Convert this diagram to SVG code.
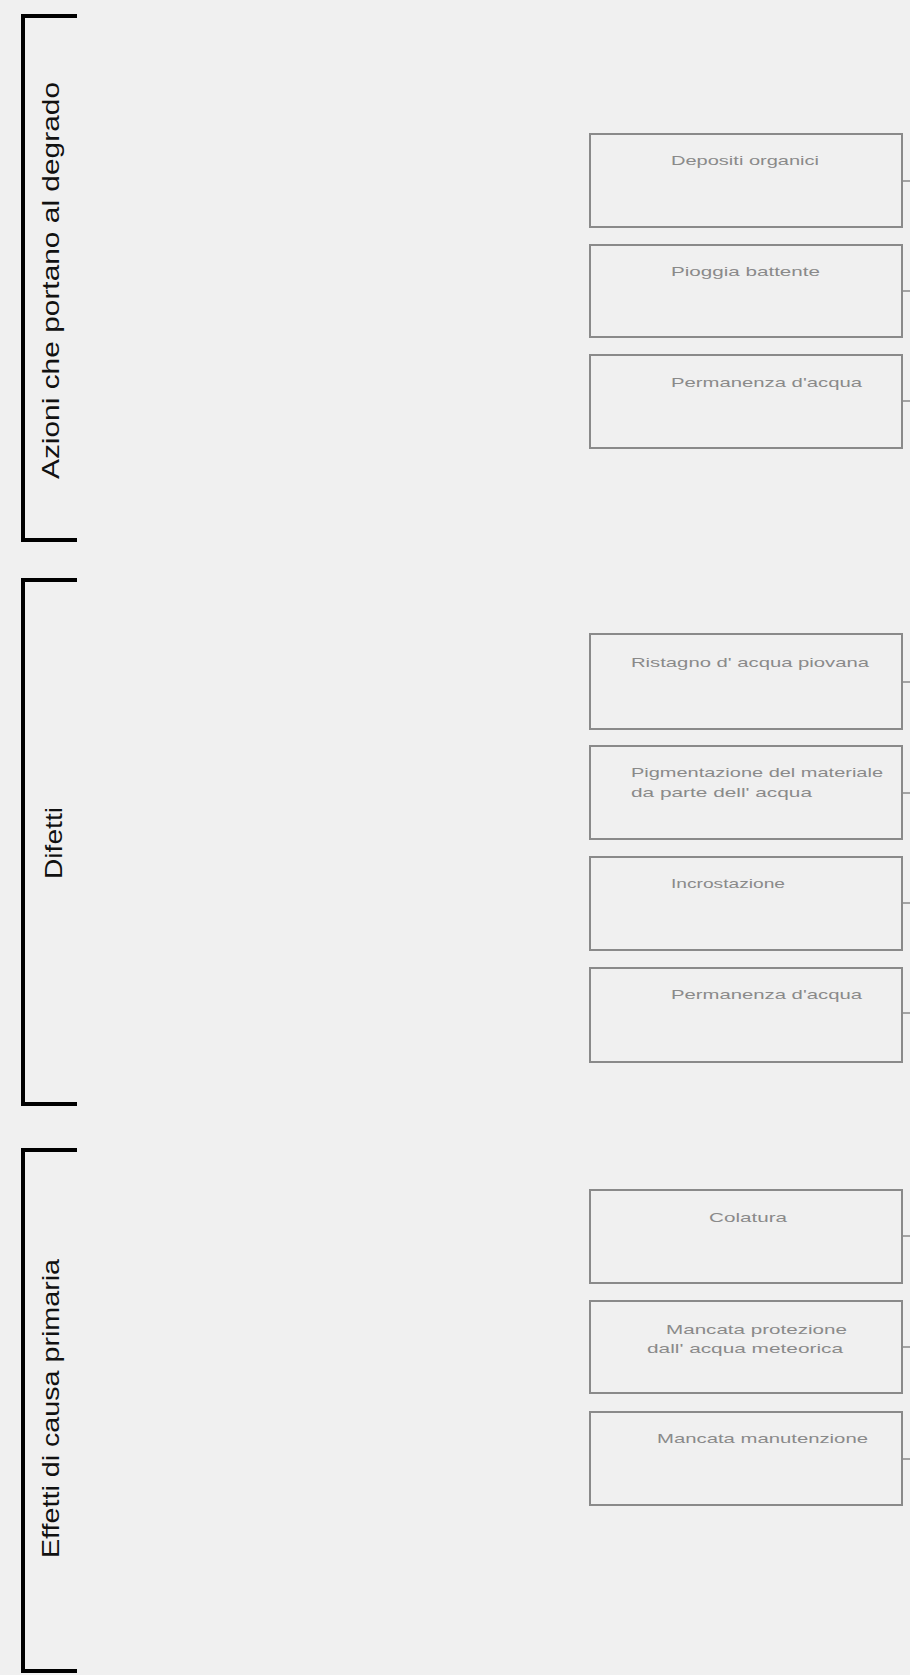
<svg xmlns="http://www.w3.org/2000/svg" width="910" height="1675" viewBox="0 0 910 1675">
<style>
.bg{fill:#f0f0f0}
.br{fill:none;stroke:#000;stroke-width:4;stroke-linecap:butt;stroke-linejoin:miter}
.lab{font-family:"Liberation Sans","DejaVu Sans",sans-serif;font-size:24px;fill:#111}
.box{fill:#f0f0f0;stroke:#8a8a8a;stroke-width:2}
.t{font-family:"Liberation Sans","DejaVu Sans",sans-serif;font-size:13px;fill:#8a8a8a}
.c{stroke:#8a8a8a;stroke-width:1.5;fill:none}
</style>
<rect class="bg" x="0" y="0" width="910" height="1675"/>
<g id="group-azioni">
<path class="br" d="M77,16 H23 V540 H77"/>
<text class="lab" transform="translate(59,479) rotate(-90)" textLength="397" lengthAdjust="spacingAndGlyphs">Azioni che portano al degrado</text>
</g>
<g id="group-difetti">
<path class="br" d="M77,580 H23 V1104 H77"/>
<text class="lab" transform="translate(62,879) rotate(-90)" textLength="72" lengthAdjust="spacingAndGlyphs">Difetti</text>
</g>
<g id="group-effetti">
<path class="br" d="M77,1150 H23 V1671 H77"/>
<text class="lab" transform="translate(59,1558) rotate(-90)" textLength="299" lengthAdjust="spacingAndGlyphs">Effetti di causa primaria</text>
</g>
<g id="connectors">
<line class="c" x1="902" y1="181" x2="910" y2="181"/>
<line class="c" x1="902" y1="291" x2="910" y2="291"/>
<line class="c" x1="902" y1="401" x2="910" y2="401"/>
<line class="c" x1="902" y1="682" x2="910" y2="682"/>
<line class="c" x1="902" y1="793" x2="910" y2="793"/>
<line class="c" x1="902" y1="903" x2="910" y2="903"/>
<line class="c" x1="902" y1="1013" x2="910" y2="1013"/>
<line class="c" x1="902" y1="1236" x2="910" y2="1236"/>
<line class="c" x1="902" y1="1347" x2="910" y2="1347"/>
<line class="c" x1="902" y1="1459" x2="910" y2="1459"/>
</g>
<g id="n1"><rect class="box" x="590" y="134" width="312" height="93"/><text class="t" x="671" y="165" textLength="148" lengthAdjust="spacingAndGlyphs">Depositi organici</text></g>
<g id="n2"><rect class="box" x="590" y="245" width="312" height="92"/><text class="t" x="671" y="276" textLength="149" lengthAdjust="spacingAndGlyphs">Pioggia battente</text></g>
<g id="n3"><rect class="box" x="590" y="355" width="312" height="93"/><text class="t" x="671" y="387" textLength="191" lengthAdjust="spacingAndGlyphs">Permanenza d'acqua</text></g>
<g id="n4"><rect class="box" x="590" y="634" width="312" height="95"/><text class="t" x="631" y="667" textLength="238" lengthAdjust="spacingAndGlyphs">Ristagno d' acqua piovana</text></g>
<g id="n5"><rect class="box" x="590" y="746" width="312" height="93"/><text class="t" x="631" y="777" textLength="252" lengthAdjust="spacingAndGlyphs">Pigmentazione del materiale</text><text class="t" x="631" y="797" textLength="181" lengthAdjust="spacingAndGlyphs">da parte dell' acqua</text></g>
<g id="n6"><rect class="box" x="590" y="857" width="312" height="93"/><text class="t" x="671" y="888" textLength="114" lengthAdjust="spacingAndGlyphs">Incrostazione</text></g>
<g id="n7"><rect class="box" x="590" y="968" width="312" height="94"/><text class="t" x="671" y="999" textLength="191" lengthAdjust="spacingAndGlyphs">Permanenza d'acqua</text></g>
<g id="n8"><rect class="box" x="590" y="1190" width="312" height="93"/><text class="t" x="709" y="1222" textLength="78" lengthAdjust="spacingAndGlyphs">Colatura</text></g>
<g id="n9"><rect class="box" x="590" y="1301" width="312" height="92"/><text class="t" x="666" y="1334" textLength="181" lengthAdjust="spacingAndGlyphs">Mancata protezione</text><text class="t" x="647" y="1353" textLength="196" lengthAdjust="spacingAndGlyphs">dall' acqua meteorica</text></g>
<g id="n10"><rect class="box" x="590" y="1412" width="312" height="93"/><text class="t" x="657" y="1443" textLength="211" lengthAdjust="spacingAndGlyphs">Mancata manutenzione</text></g>
</svg>
